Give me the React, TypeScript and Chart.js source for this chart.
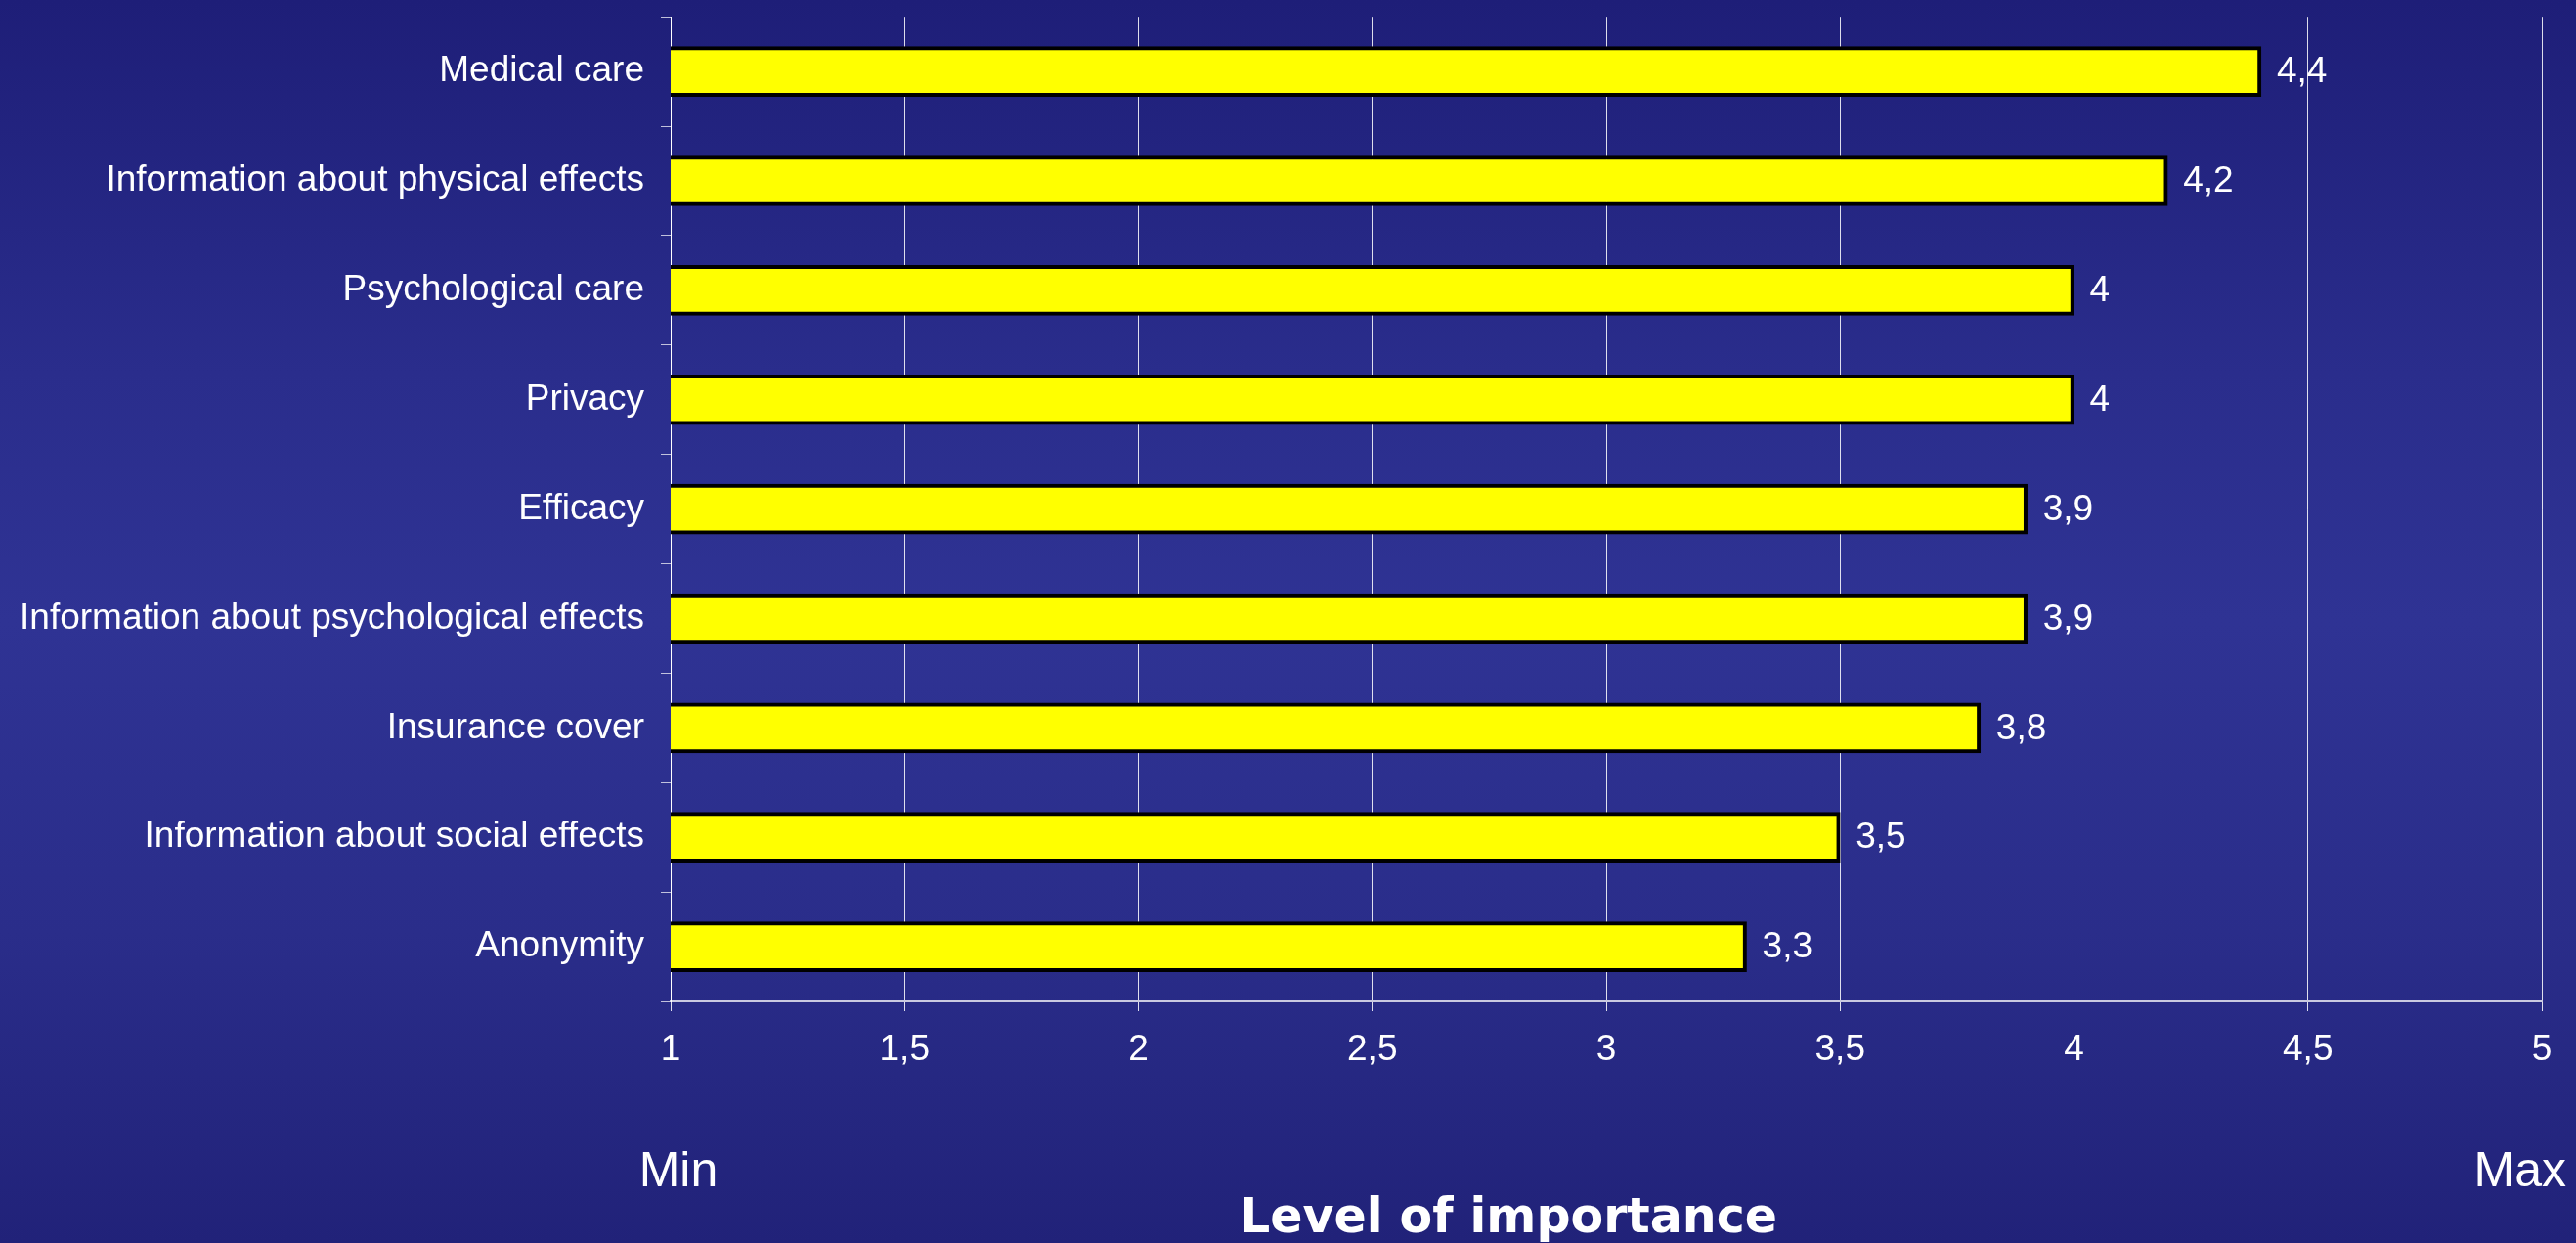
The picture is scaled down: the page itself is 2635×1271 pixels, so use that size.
import React, { useEffect, useRef } from "react";
import { Chart, registerables } from "chart.js";

Chart.register(...registerables);

const categories = [
  "Medical care",
  "Information about physical effects",
  "Psychological care",
  "Privacy",
  "Efficacy",
  "Information about psychological effects",
  "Insurance cover",
  "Information about social effects",
  "Anonymity",
];
const values = [4.4, 4.2, 4.0, 4.0, 3.9, 3.9, 3.8, 3.5, 3.3];
const axisMin = 1;
const axisMax = 5;
const axisStep = 0.5;
const minLabel = "Min";
const maxLabel = "Max";
const axisTitle = "Level of importance";

const W = 2635;
const H = 1271;
const NARROW = '"Liberation Sans Narrow", "Arial Narrow", "Liberation Sans", Arial, sans-serif';
const fmt = (v: number) => String(v).replace(".", ",");

export default function App() {
  const ref = useRef<HTMLCanvasElement | null>(null);
  useEffect(() => {
    if (!ref.current) return;
    const extras = {
      id: "extras",
      afterDatasetsDraw(chart: any) {
        const ctx = chart.ctx;
        const meta = chart.getDatasetMeta(0);
        ctx.save();
        ctx.fillStyle = "#ffffff";
        ctx.font = `37px ${NARROW}`;
        ctx.textBaseline = "middle";
        ctx.textAlign = "left";
        meta.data.forEach((el: any, i: number) => {
          ctx.fillText(fmt(values[i]), el.x + 16, el.y + 1);
        });
        ctx.restore();
      },
      afterDraw(chart: any) {
        const ctx = chart.ctx;
        ctx.save();
        ctx.fillStyle = "#ffffff";
        ctx.textBaseline = "alphabetic";
        ctx.font = `50px ${NARROW}`;
        ctx.textAlign = "center";
        ctx.fillText(minLabel, 694, 1213);
        ctx.textAlign = "right";
        ctx.fillText(maxLabel, 2625, 1213);
        ctx.font = `bold 49px "DejaVu Sans", Verdana, sans-serif`;
        ctx.textAlign = "center";
        ctx.fillText(axisTitle, 1543, 1260);
        ctx.restore();
      },
    };
    const chart = new Chart(ref.current, {
      type: "bar",
      data: {
        labels: categories,
        datasets: [
          {
            data: values,
            backgroundColor: "#ffff00",
            borderColor: "#000000",
            borderWidth: 4,
            borderSkipped: false,
            barThickness: 51,
          },
        ],
      },
      options: {
        indexAxis: "y",
        animation: false,
        responsive: false,
        maintainAspectRatio: false,
        layout: { padding: { top: 17, right: 35, left: 0, bottom: 0 } },
        plugins: {
          legend: { display: false },
          tooltip: { enabled: false },
          title: { display: false },
        },
        scales: {
          x: {
            type: "linear",
            min: axisMin,
            max: axisMax,
            afterFit: (s: any) => {
              s.height = H - 1024;
            },
            ticks: {
              stepSize: axisStep,
              color: "#ffffff",
              font: { family: NARROW, size: 37 },
              padding: 18,
              callback: (v: any) => fmt(Number(v)),
            },
            grid: {
              color: "rgba(255,255,255,0.85)",
              lineWidth: 1,
              tickLength: 10,
              drawOnChartArea: true,
            },
            border: { color: "rgba(220,220,235,0.9)", width: 2 },
          },
          y: {
            type: "category",
            offset: true,
            afterFit: (s: any) => {
              s.width = 686;
            },
            ticks: {
              color: "#ffffff",
              font: { family: NARROW, size: 37, lineHeight: 0.01 },
              padding: 17,
            },
            grid: {
              offset: true,
              drawOnChartArea: false,
              color: "rgba(220,220,235,0.85)",
              tickLength: 10,
              lineWidth: 1,
            },
            border: { color: "#ffffff", width: 1 },
          },
        },
      },
      plugins: [extras],
    });
    return () => chart.destroy();
  }, []);
  return (
    <div
      style={{
        position: "fixed",
        left: 0,
        top: 0,
        width: W,
        height: H,
        background:
          "linear-gradient(to bottom, #1e1e78 0%, #2a2d8c 30%, #2f3394 50%, #2a2d8a 75%, #212279 100%)",
      }}
    >
      <canvas ref={ref} width={W} height={H} style={{ display: "block" }} />
    </div>
  );
}
